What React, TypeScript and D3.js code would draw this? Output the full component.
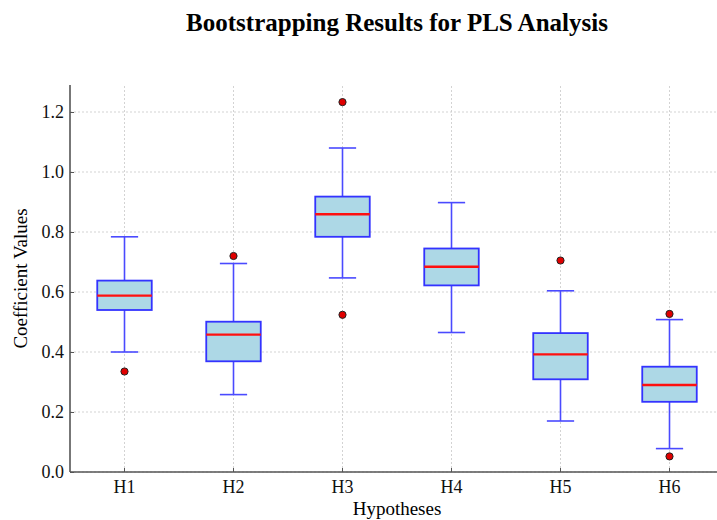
import React, { useEffect, useRef } from "react";
import * as d3 from "d3";

// box statistics
const hypotheses = ["H1", "H2", "H3", "H4", "H5", "H6"];
const whiskerLow = [0.4, 0.258, 0.647, 0.465, 0.17, 0.078];
const q1 = [0.54, 0.369, 0.784, 0.622, 0.309, 0.234];
const median = [0.588, 0.458, 0.859, 0.684, 0.392, 0.29];
const q3 = [0.638, 0.501, 0.918, 0.745, 0.463, 0.351];
const whiskerHigh = [0.784, 0.695, 1.08, 0.898, 0.604, 0.508];
const outliers = [[0.335], [0.72], [1.233, 0.524], [], [0.705], [0.527, 0.052]];
const yTicks = [0.0, 0.2, 0.4, 0.6, 0.8, 1.0, 1.2];

const width = 717;
const height = 520;
const margin = { top: 85, left: 70, bottom: 48, right: -7 };
const font = "Liberation Serif, DejaVu Serif, serif";

export default function App() {
  const ref = useRef<SVGSVGElement>(null);

  useEffect(() => {
    const svg = d3.select(ref.current);
    svg.selectAll("*").remove();

    const x = d3
      .scaleBand()
      .domain(hypotheses)
      .range([margin.left, width - margin.right])
      .padding(0);
    const y = d3
      .scaleLinear()
      .domain([0, 1.29])
      .range([height - margin.bottom, margin.top]);
    const cx = (h: string) => (x(h) as number) + x.bandwidth() / 2;
    const boxW = x.bandwidth() * 0.5;
    const capW = boxW / 2;

    // grid
    const grid = svg.append("g").attr("stroke", "#c8c8c8").attr("stroke-width", 0.8).attr("stroke-dasharray", "2,2");
    grid
      .selectAll("line.h")
      .data(yTicks)
      .join("line")
      .attr("x1", margin.left)
      .attr("x2", width)
      .attr("y1", (d) => y(d))
      .attr("y2", (d) => y(d));
    grid
      .selectAll("line.v")
      .data(hypotheses)
      .join("line")
      .attr("x1", (d) => cx(d))
      .attr("x2", (d) => cx(d))
      .attr("y1", y(0))
      .attr("y2", margin.top);

    // boxes
    const g = svg
      .append("g")
      .selectAll("g")
      .data(hypotheses)
      .join("g");

    const whisker = "#4a4aff";
    g.append("line")
      .attr("x1", (d) => cx(d))
      .attr("x2", (d) => cx(d))
      .attr("y1", (d, i) => y(whiskerLow[i]))
      .attr("y2", (d, i) => y(q1[i]))
      .attr("stroke", whisker)
      .attr("stroke-width", 1.6);
    g.append("line")
      .attr("x1", (d) => cx(d))
      .attr("x2", (d) => cx(d))
      .attr("y1", (d, i) => y(q3[i]))
      .attr("y2", (d, i) => y(whiskerHigh[i]))
      .attr("stroke", whisker)
      .attr("stroke-width", 1.6);
    g.append("line")
      .attr("x1", (d) => cx(d) - capW / 2)
      .attr("x2", (d) => cx(d) + capW / 2)
      .attr("y1", (d, i) => y(whiskerLow[i]))
      .attr("y2", (d, i) => y(whiskerLow[i]))
      .attr("stroke", whisker)
      .attr("stroke-width", 1.6);
    g.append("line")
      .attr("x1", (d) => cx(d) - capW / 2)
      .attr("x2", (d) => cx(d) + capW / 2)
      .attr("y1", (d, i) => y(whiskerHigh[i]))
      .attr("y2", (d, i) => y(whiskerHigh[i]))
      .attr("stroke", whisker)
      .attr("stroke-width", 1.6);

    g.append("rect")
      .attr("x", (d) => cx(d) - boxW / 2)
      .attr("width", boxW)
      .attr("y", (d, i) => y(q3[i]))
      .attr("height", (d, i) => y(q1[i]) - y(q3[i]))
      .attr("fill", "#add8e6")
      .attr("stroke", "#3333ff")
      .attr("stroke-width", 1.8);

    g.append("line")
      .attr("x1", (d) => cx(d) - boxW / 2)
      .attr("x2", (d) => cx(d) + boxW / 2)
      .attr("y1", (d, i) => y(median[i]))
      .attr("y2", (d, i) => y(median[i]))
      .attr("stroke", "#ff1010")
      .attr("stroke-width", 2.4);

    g.selectAll("circle")
      .data((d, i) => outliers[i].map((v) => ({ h: d, v })))
      .join("circle")
      .attr("cx", (d) => cx(d.h))
      .attr("cy", (d) => y(d.v))
      .attr("r", 3.6)
      .attr("fill", "#e00000")
      .attr("stroke", "#222")
      .attr("stroke-width", 1);

    // axes, ticks point inward
    const yAxis = svg
      .append("g")
      .attr("transform", `translate(${margin.left},0)`)
      .call(d3.axisLeft(y).tickValues(yTicks).tickFormat(d3.format(".1f")).tickSizeInner(-4).tickSizeOuter(0).tickPadding(6));
    const xAxis = svg
      .append("g")
      .attr("transform", `translate(0,${y(0)})`)
      .call(d3.axisBottom(x).tickSizeInner(-4).tickSizeOuter(0).tickPadding(8));

    [xAxis, yAxis].forEach((a) => {
      a.attr("font-family", font).attr("font-size", 18);
      a.select(".domain").attr("stroke", "#555").attr("stroke-width", 1.6);
      a.selectAll(".tick line").attr("stroke", "#555").attr("stroke-width", 1);
      a.selectAll(".tick text").attr("fill", "#111");
    });
    yAxis.select(".domain").attr("d", `M0,${y(0)}V${margin.top}`);
    xAxis.select(".domain").attr("d", `M${margin.left},0H${width}`);

    // labels
    svg
      .append("text")
      .attr("x", 397)
      .attr("y", 31)
      .attr("text-anchor", "middle")
      .attr("font-family", font)
      .attr("font-weight", "bold")
      .attr("font-size", 25)
      .text("Bootstrapping Results for PLS Analysis");
    svg
      .append("text")
      .attr("x", 397)
      .attr("y", 515)
      .attr("text-anchor", "middle")
      .attr("font-family", font)
      .attr("font-size", 19)
      .text("Hypotheses");
    svg
      .append("text")
      .attr("transform", `translate(27,${(y(0) + margin.top) / 2}) rotate(-90)`)
      .attr("text-anchor", "middle")
      .attr("font-family", font)
      .attr("font-size", 19)
      .text("Coefficient Values");
  }, []);

  return (
    <svg
      ref={ref}
      width={width}
      height={height}
      style={{ position: "absolute", left: 0, top: 0, background: "#fff" }}
    />
  );
}
